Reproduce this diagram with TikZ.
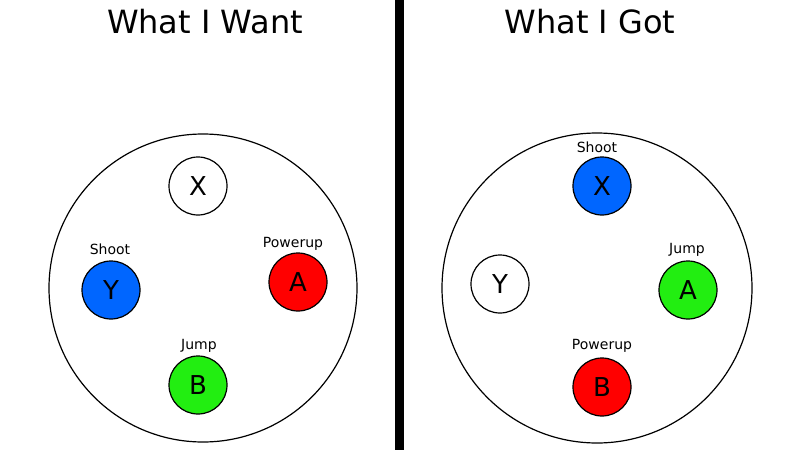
\documentclass[tikz,border=0pt]{standalone}
\usepackage{fontspec}
\setmainfont{DejaVu Sans}
\definecolor{bblue}{HTML}{0066FF}
\definecolor{bred}{HTML}{FF0000}
\definecolor{bgreen}{HTML}{22EE11}
\begin{document}
\begin{tikzpicture}[x=1pt,y=-1pt,
  btn/.style={circle,draw,line width=1.2pt,minimum size=58pt,inner sep=0pt,font=\fontsize{26}{26}\selectfont},
  lbl/.style={font=\fontsize{14}{14}\selectfont},
  ttl/.style={font=\fontsize{32}{32}\selectfont}]
\useasboundingbox (0,0) rectangle (800,450);
\fill (395,0) rectangle (404,450);
\node[ttl] (t1) at (205,22) {What I Want};
\node[ttl] (t2) at (590,22) {What I Got};
\node[circle,draw,line width=1.2pt,minimum size=308pt] (c1) at (203,288) {};
\node[circle,draw,line width=1.2pt,minimum size=310pt] (c2) at (597,288) {};
% left
\node[btn,fill=white] (lx) at (198,186) {X};
\node[btn,fill=bblue] (ly) at (111,290) {Y};
\node[btn,fill=bred] (la) at (298,282) {A};
\node[btn,fill=bgreen] (lb) at (198,385) {B};
\node[lbl] (lys) at (110,249) {Shoot};
\node[lbl] (las) at (293,244) {Powerup};
\node[lbl] (lbs) at (199,346) {Jump};
% right
\node[btn,fill=bblue] (rx) at (602,186) {X};
\node[btn,fill=white] (ry) at (500,284) {Y};
\node[btn,fill=bgreen] (ra) at (688,290) {A};
\node[btn,fill=bred] (rb) at (602,387) {B};
\node[lbl] (rxs) at (597,147) {Shoot};
\node[lbl] (ras) at (687,250) {Jump};
\node[lbl] (rbs) at (602,346) {Powerup};
\end{tikzpicture}
\end{document}
